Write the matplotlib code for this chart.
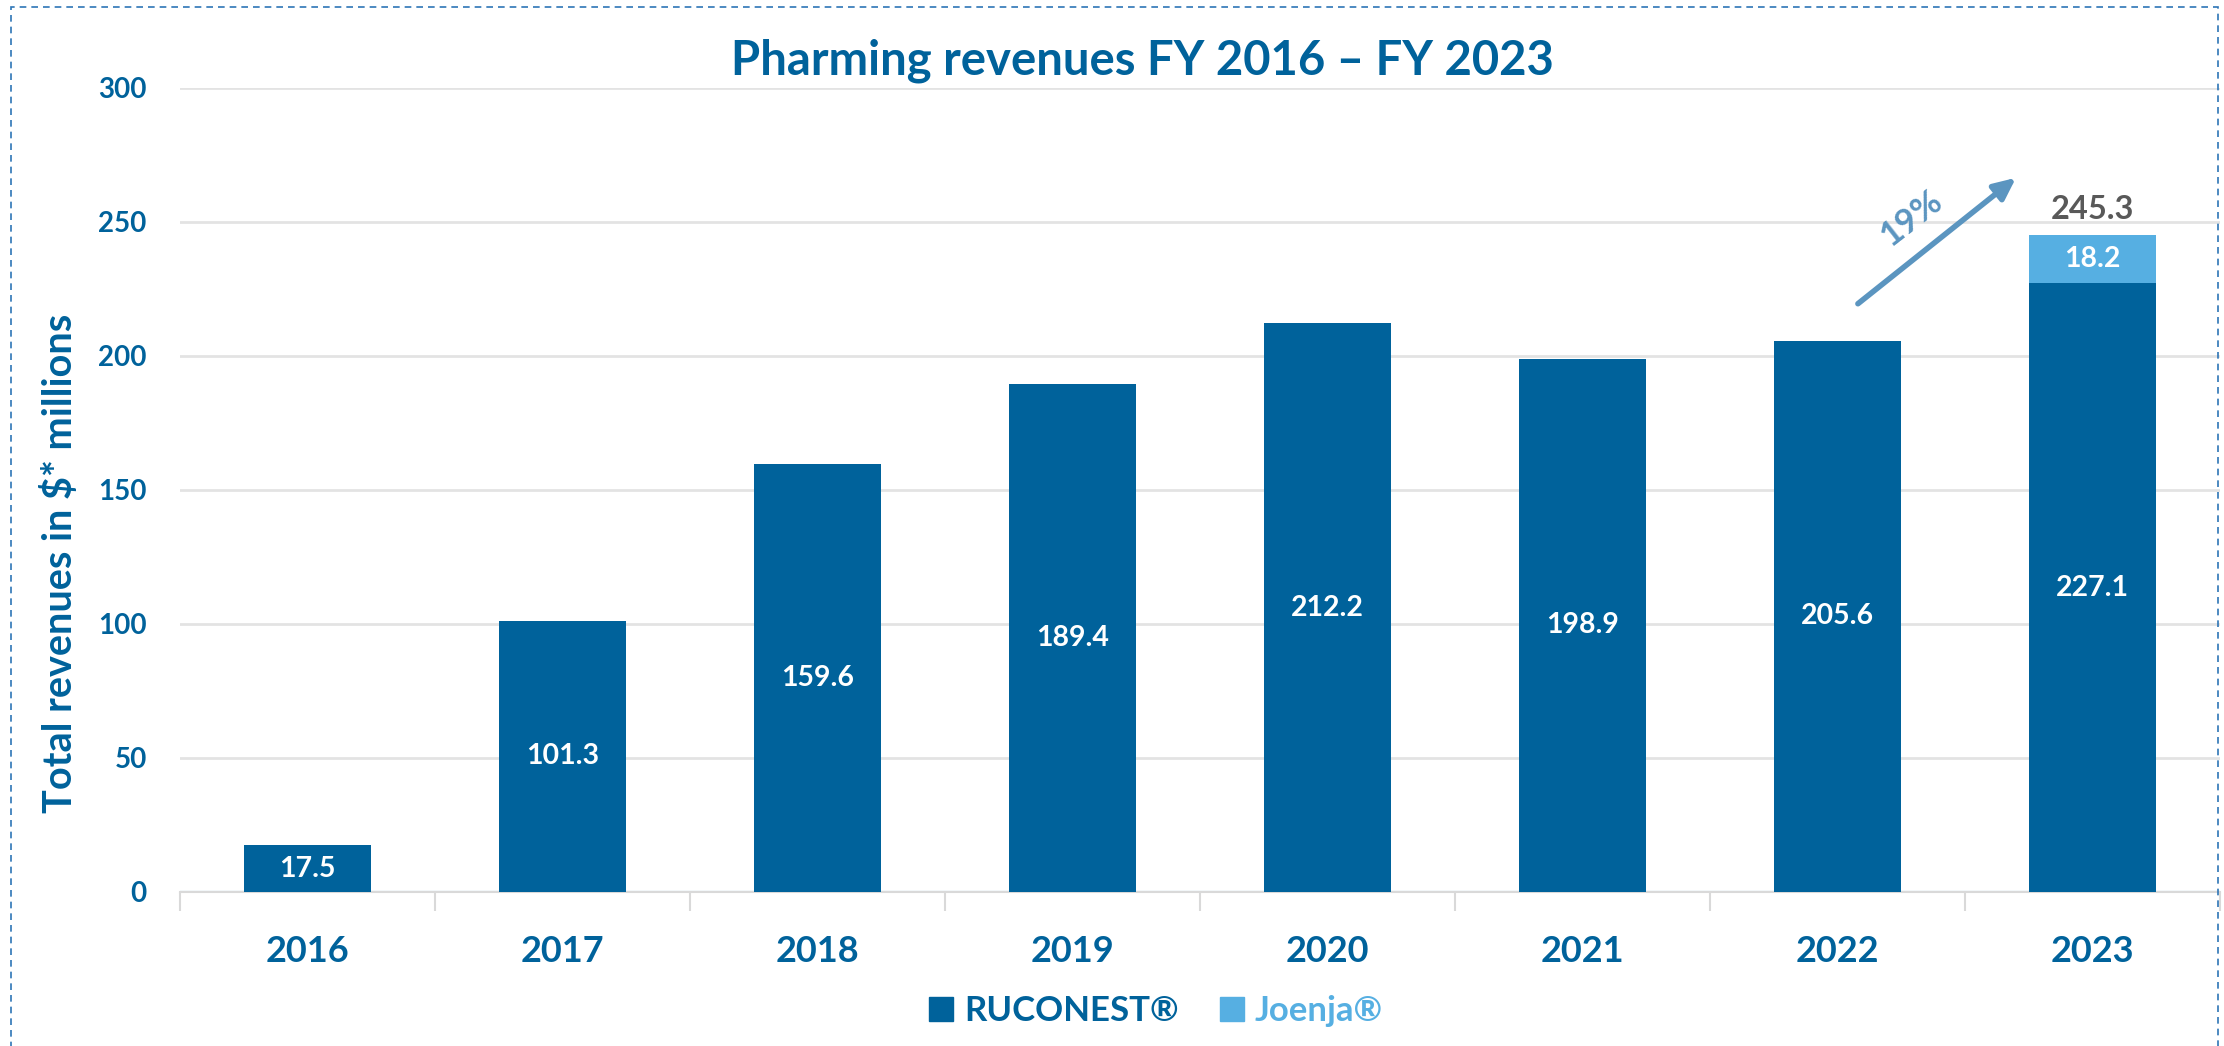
import matplotlib
matplotlib.use("Agg")
import matplotlib.pyplot as plt
from matplotlib.patches import Rectangle, Patch, FancyArrowPatch
import numpy as np

years = ["2016", "2017", "2018", "2019", "2020", "2021", "2022", "2023"]
ruconest = [17.5, 101.3, 159.6, 189.4, 212.2, 198.9, 205.6, 227.1]
joenja = [0, 0, 0, 0, 0, 0, 0, 18.2]
totals_label = {7: "245.3"}
growth_label = "19%"

DARK = "#00629B"
LIGHT = "#56AFE2"
GREY_TXT = "#595959"
ARROW = "#5B95C0"

plt.rcParams['font.family'] = ['Lato', 'DejaVu Sans']
plt.rcParams['font.weight'] = 'bold'

fig = plt.figure(figsize=(22.24, 10.46), dpi=100)
ax = fig.add_axes([180/2224, 1-892/1046, (2220-180)/2224, (892-88)/1046])

x = np.arange(len(years))
w = 0.5
ax.bar(x, ruconest, width=w, color=DARK, zorder=3)
ax.bar(x, joenja, width=w, bottom=ruconest, color=LIGHT, zorder=3)

for i, v in enumerate(ruconest):
    ax.text(x[i], v/2, f"{v:.1f}", ha="center", va="center", color="white",
            fontsize=20.5, fontweight="bold", zorder=4)
for i, v in enumerate(joenja):
    if v > 0:
        ax.text(x[i], ruconest[i] + v/2, f"{v:.1f}", ha="center", va="center",
                color="white", fontsize=20.5, fontweight="bold", zorder=4)
for i, s in totals_label.items():
    ax.text(x[i], ruconest[i] + joenja[i] + 4, s, ha="center", va="bottom",
            color=GREY_TXT, fontsize=23.5, fontweight="bold", zorder=4)

# growth arrow
arrow = FancyArrowPatch((6.08, 219.5), (6.70, 266.5),
                        arrowstyle="-|>,head_length=1.3,head_width=0.6",
                        color=ARROW, lw=4, shrinkA=0, shrinkB=0,
                        mutation_scale=10, zorder=5, transform=ax.transData)
ax.add_patch(arrow)
ax.text(6.29, 251.5, growth_label, rotation=38, ha="center", va="center",
        color=ARROW, fontsize=25, fontweight="bold", rotation_mode="anchor")

ax.set_xlim(-0.5, 7.5)
ax.set_ylim(0, 300)
ax.set_yticks([0, 50, 100, 150, 200, 250, 300])
ax.yaxis.grid(True, color="#E3E3E3", lw=2, zorder=0)
ax.set_axisbelow(True)
for s in ["top", "right", "left"]:
    ax.spines[s].set_visible(False)
ax.spines["bottom"].set_color("#D9D9D9")
ax.spines["bottom"].set_linewidth(1.5)
ax.axhline(0, color=DARK, lw=1.5, zorder=2)

ax.set_xticks(x)
ax.set_xticklabels(years)
ax.set_xticks(np.arange(-0.5, 8.0, 1.0), minor=True)
ax.tick_params(axis="x", which="major", length=0, pad=31, labelsize=26,
               labelcolor=DARK)
ax.tick_params(axis="x", which="minor", length=14, width=1.5, color="#D9D9D9")
ax.tick_params(axis="y", length=0, pad=24, labelsize=20, labelcolor=DARK)
for lab in ax.get_xticklabels() + ax.get_yticklabels():
    lab.set_fontweight("bold")

fig.text(60/2224, 1-563/1046, "Total revenues in $* millions", rotation=90,
         ha="center", va="center", color=DARK, fontsize=28.5, fontweight="bold")
fig.text(1142/2224, 1-61/1046, "Pharming revenues FY 2016 \u2013 FY 2023",
         ha="center", va="center", color=DARK, fontsize=34, fontweight="bold")

handles = [Patch(color=DARK), Patch(color=LIGHT)]
leg = fig.legend(handles, ["RUCONEST\u00ae", "Joenja\u00ae"], loc="center",
                 bbox_to_anchor=(1156/2224, 1-1011/1046), ncol=2, frameon=False,
                 fontsize=25, handlelength=0.7, handleheight=0.7,
                 handletextpad=0.3, columnspacing=1.2)
for t, c in zip(leg.get_texts(), [DARK, LIGHT]):
    t.set_color(c)
    t.set_fontweight("bold")

fig.patches.append(Rectangle((11/2224, -0.01), (2218-11)/2224, 1-7/1046+0.01,
                             transform=fig.transFigure, fill=False,
                             edgecolor="#2E75B6", lw=1.2, ls=(0, (4, 3))))

fig.savefig("out.png", dpi=100)
